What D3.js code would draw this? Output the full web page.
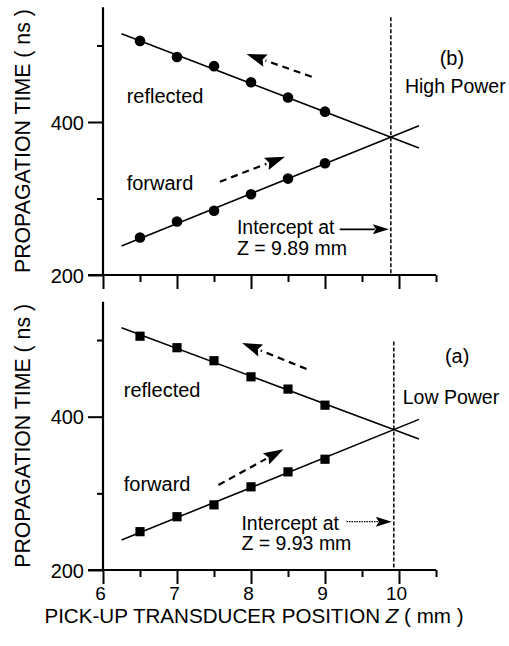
<!DOCTYPE html>
<html><head><meta charset="utf-8">
<script src="https://cdn.jsdelivr.net/npm/d3@7"></script>
<style>
body{margin:0;background:#fff}
text{font-family:"Liberation Sans",Arial,Helvetica,sans-serif;fill:#000}
</style>
</head><body>
<svg id="chart" width="509" height="646"></svg>
<script>
// ---------- data ----------
const zPositions = [6.5, 7, 7.5, 8, 8.5, 9];
const highReflected = [506, 485, 473, 452, 432, 413.5];
const highForward = [249, 270, 284, 305.5, 326, 346];
const lowReflected = [505, 490, 473, 452, 436, 415];
const lowForward = [250, 269.5, 285, 308.5, 328, 344.5];
const highReflectedFit = [[6.25, 515.5], [10.27, 366]];
const highForwardFit = [[6.25, 238], [10.27, 395]];
const lowReflectedFit = [[6.25, 516], [10.27, 371]];
const lowForwardFit = [[6.25, 239], [10.27, 396.5]];
const intercepts = [9.89, 9.93];
const xTicks = [6, 6.5, 7, 7.5, 8, 8.5, 9, 9.5, 10, 10.5];
const xTickLabels = ["6", "7", "8", "9", "10"];
const yTicks = [200, 300, 400, 500];
const yTickLabels = ["200", "400"];
const panelNames = ["(b)", "(a)"];
const powerLabels = ["High Power", "Low Power"];
const interceptTexts = ["Z = 9.89 mm", "Z = 9.93 mm"];

// ---------- layout ----------
const svg = d3.select("#chart");
const x = d3.scaleLinear().domain([6, 10.5]).range([103, 436]);
const panels = [
  {top: 7.25, bottom: 275, marker: "circle", refl: highReflected, fwd: highForward,
   reflFit: highReflectedFit, fwdFit: highForwardFit, icpt: intercepts[0], name: panelNames[0],
   power: powerLabels[0], itext: interceptTexts[0], labels: false,
   dashTop: 537, reflArrow: [[8.82, 459.2], [7.94, 488.9]], fwdArrow: [[7.58, 322], [8.46, 354.6]],
   icArrowY: 259.7, icArrowX0: 9.2, solidShaft: true,
   reflText: [6.32, 424.8], fwdText: [6.32, 311], icText: [7.81, 253.2, 226.4],
   nameText: [10.55, 474.5], powerText: [10.08, 438]},
  {top: 301.7, bottom: 570, marker: "square", refl: lowReflected, fwd: lowForward,
   reflFit: lowReflectedFit, fwdFit: lowForwardFit, icpt: intercepts[1], name: panelNames[1],
   power: powerLabels[1], itext: interceptTexts[1], labels: true,
   dashTop: 498, reflArrow: [[8.75, 462.2], [7.88, 496.2]], fwdArrow: [[7.56, 310.9], [8.44, 357.5]],
   icArrowY: 263, icArrowX0: 9.29, solidShaft: false,
   reflText: [6.28, 425.7], fwdText: [6.28, 303.4], icText: [7.87, 252.8, 226],
   nameText: [10.62, 469.6], powerText: [10.05, 416]}
];

function arrowHead(g, p0, p1, len, wid) {
  const dx = p1[0] - p0[0], dy = p1[1] - p0[1];
  const L = Math.hypot(dx, dy), ux = dx / L, uy = dy / L;
  const bx = p1[0] - ux * len, by = p1[1] - uy * len;
  g.append("path")
    .attr("d", `M${p1[0]},${p1[1]}L${bx - uy * wid / 2},${by + ux * wid / 2}L${bx + ux * 3},${by + uy * 3}L${bx + uy * wid / 2},${by - ux * wid / 2}Z`)
    .attr("fill", "#000");
  return [bx, by];
}

panels.forEach(p => {
  const y = d3.scaleLinear().domain([200, 550]).range([p.bottom, p.top]);
  const g = svg.append("g");

  // fit lines
  const line = d3.line().x(d => x(d[0])).y(d => y(d[1]));
  [p.reflFit, p.fwdFit].forEach(f => {
    g.append("path").attr("d", line(f)).attr("fill", "none")
      .attr("stroke", "#000").attr("stroke-width", 1.6);
  });

  // markers
  [p.refl, p.fwd].forEach(series => {
    series.forEach((v, i) => {
      if (p.marker === "circle") {
        g.append("circle").attr("cx", x(zPositions[i])).attr("cy", y(v)).attr("r", 5.3).attr("fill", "#000");
      } else {
        g.append("rect").attr("x", x(zPositions[i]) - 4.6).attr("y", y(v) - 4.6)
          .attr("width", 9.2).attr("height", 9.2).attr("fill", "#000");
      }
    });
  });

  // vertical dashed intercept line
  g.append("line").attr("x1", x(p.icpt)).attr("x2", x(p.icpt))
    .attr("y1", y(p.dashTop)).attr("y2", y(200))
    .attr("stroke", "#000").attr("stroke-width", 1.5).attr("stroke-dasharray", "4,2");

  // dashed direction arrows
  [p.reflArrow, p.fwdArrow].forEach(a => {
    const p0 = [x(a[0][0]), y(a[0][1])], p1 = [x(a[1][0]), y(a[1][1])];
    const base = arrowHead(g, p0, p1, 20, 13);
    g.append("line").attr("x1", p0[0]).attr("y1", p0[1]).attr("x2", base[0]).attr("y2", base[1])
      .attr("stroke", "#000").attr("stroke-width", 2.2).attr("stroke-dasharray", "7,5");
  });

  // intercept arrow
  {
    const p0 = [x(p.icArrowX0), y(p.icArrowY)], p1 = [x(p.icpt) - 2, y(p.icArrowY)];
    const base = arrowHead(g, p0, p1, 16, 10);
    g.append("line").attr("x1", p0[0]).attr("y1", p0[1]).attr("x2", base[0] + 2).attr("y2", base[1])
      .attr("stroke", "#000").attr("stroke-width", p.solidShaft ? 1.6 : 1.2)
      .attr("stroke-dasharray", p.solidShaft ? null : "1.5,1");
  }

  // texts
  const fs = 20;
  g.append("text").attr("x", x(p.reflText[0])).attr("y", y(p.reflText[1])).attr("font-size", fs).text("reflected");
  g.append("text").attr("x", x(p.fwdText[0])).attr("y", y(p.fwdText[1])).attr("font-size", fs).text("forward");
  g.append("text").attr("x", x(p.icText[0])).attr("y", y(p.icText[1])).attr("font-size", 19.5).text("Intercept at");
  g.append("text").attr("x", x(p.icText[0])).attr("y", y(p.icText[2])).attr("font-size", 19.5).text(p.itext);
  g.append("text").attr("x", x(p.nameText[0])).attr("y", y(p.nameText[1])).attr("font-size", fs).text(p.name);
  g.append("text").attr("x", x(p.powerText[0])).attr("y", y(p.powerText[1])).attr("font-size", 19.5).text(p.power);

  // y axis
  const ya = g.append("g").attr("transform", `translate(${x(6)},0)`)
    .call(d3.axisLeft(y).tickValues(yTicks).tickSizeOuter(0)
      .tickSize(15).tickPadding(4)
      .tickFormat(d => yTickLabels.includes(String(d)) ? String(d) : ""));
  ya.select(".domain").attr("stroke-width", 2.2).attr("d", `M0,${y(550)}V${y(200)}`);
  ya.selectAll(".tick line").attr("stroke-width", 2)
    .attr("x2", d => yTickLabels.includes(String(d)) ? -15 : -6);
  ya.selectAll(".tick text").attr("font-size", 20).attr("font-family", '"Liberation Sans",Arial,sans-serif')
    .attr("dy", "0.36em");

  // x axis
  const xa = g.append("g").attr("transform", `translate(0,${p.bottom})`)
    .call(d3.axisBottom(x).tickValues(xTicks).tickSizeOuter(0).tickSize(14).tickPadding(3)
      .tickFormat(d => p.labels && xTickLabels.includes(String(d)) ? String(d) : ""));
  xa.select(".domain").attr("stroke-width", 2.2).attr("d", `M${x(6) - 15},0H${x(10.5)}`);
  xa.selectAll(".tick line").attr("stroke-width", 2)
    .attr("y2", d => Number.isInteger(d) ? 14 : 7);
  xa.selectAll(".tick text").attr("font-size", 19).attr("font-family", '"Liberation Sans",Arial,sans-serif')
    .attr("dx", -3);

  // y axis title
  svg.append("text")
    .attr("transform", `translate(30,${(p.top + p.bottom) / 2}) rotate(-90)`)
    .attr("text-anchor", "middle").attr("font-size", 21.3)
    .text("PROPAGATION TIME ( ns )");
});

// x axis title
const xt = svg.append("text").attr("x", 254).attr("y", 623).attr("text-anchor", "middle").attr("font-size", 20.6);
xt.append("tspan").text("PICK-UP TRANSDUCER POSITION ");
xt.append("tspan").attr("font-style", "italic").text("Z");
xt.append("tspan").text(" ( mm )");
</script>
</body></html>
